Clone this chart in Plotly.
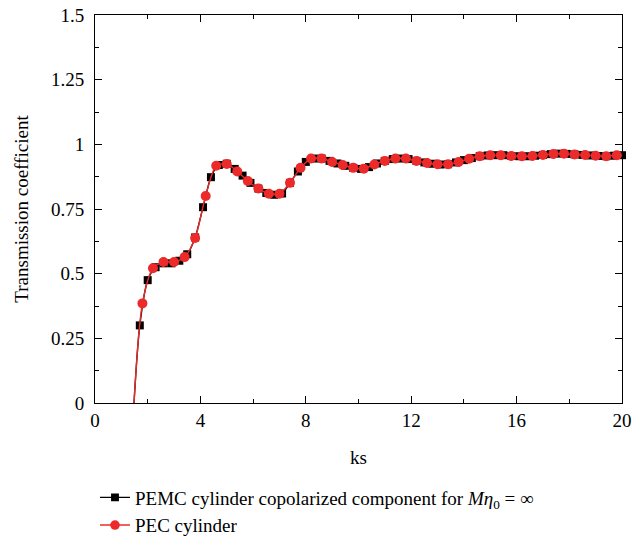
import plotly.graph_objects as go

# PEMC cylinder copolarized component (black squares)
pemc_ks = [1.48, 1.7, 2.0, 2.3, 2.6, 2.9, 3.2, 3.5, 3.8, 4.1, 4.4, 4.7, 5.0, 5.3, 5.6, 5.9,
           6.2, 6.5, 6.8, 7.1, 7.4, 7.7, 8.0, 8.3, 8.6, 8.9, 9.2, 9.5, 9.8, 10.1, 10.4,
           10.7, 11.0, 11.3, 11.6, 11.9, 12.2, 12.5, 12.8, 13.1, 13.4, 13.7, 14.0, 14.3,
           14.6, 14.9, 15.2, 15.5, 15.8, 16.1, 16.4, 16.7, 17.0, 17.3, 17.6, 17.9, 18.2,
           18.5, 18.8, 19.1, 19.4, 19.7, 20.0]
pemc_t = [0.0, 0.30, 0.475, 0.525, 0.54, 0.54, 0.55, 0.575, 0.64, 0.757, 0.873, 0.92, 0.925,
          0.905, 0.879, 0.851, 0.829, 0.812, 0.805, 0.81, 0.851, 0.895, 0.932, 0.945, 0.945,
          0.936, 0.926, 0.917, 0.909, 0.905, 0.912, 0.926, 0.936, 0.943, 0.945, 0.943, 0.936,
          0.93, 0.925, 0.922, 0.923, 0.93, 0.939, 0.947, 0.954, 0.957, 0.958, 0.958, 0.955,
          0.954, 0.954, 0.956, 0.959, 0.962, 0.964, 0.963, 0.961, 0.959, 0.957, 0.955,
          0.954, 0.956, 0.958]

# PEC cylinder (red circles)
pec_ks = [1.48, 1.8, 2.2, 2.6, 3.0, 3.4, 3.8, 4.2, 4.6, 5.0, 5.4, 5.8, 6.2, 6.6, 7.0, 7.4,
          7.8, 8.2, 8.6, 9.0, 9.4, 9.8, 10.2, 10.6, 11.0, 11.4, 11.8, 12.2, 12.6, 13.0,
          13.4, 13.8, 14.2, 14.6, 15.0, 15.4, 15.8, 16.2, 16.6, 17.0, 17.4, 17.8, 18.2,
          18.6, 19.0, 19.4, 19.8, 20.0]
pec_t = [0.0, 0.385, 0.521, 0.545, 0.545, 0.564, 0.638, 0.80, 0.917, 0.924, 0.895, 0.858,
         0.829, 0.809, 0.809, 0.851, 0.909, 0.945, 0.945, 0.932, 0.92, 0.909, 0.906, 0.922,
         0.936, 0.945, 0.945, 0.936, 0.928, 0.923, 0.923, 0.932, 0.944, 0.954, 0.958, 0.958,
         0.955, 0.954, 0.955, 0.959, 0.963, 0.964, 0.961, 0.959, 0.956, 0.954, 0.958, 0.957]

x_ticks = [0, 4, 8, 12, 16, 20]
y_ticks = [0, 0.25, 0.5, 0.75, 1, 1.25, 1.5]
y_tick_text = ["0", "0.25", "0.5", "0.75", "1", "1.25", "1.5"]

FONT = "Liberation Serif"
FS = 19
RED = "#ec2a2a"

W, H = 635, 545
ML, MT, MB = 95, 15, 142
PLOT_RIGHT = 622

# hide markers at the curve start (ks where curve leaves zero) and at the PEC line end
pemc_sizes = [0] + [8] * (len(pemc_ks) - 1)
pec_sizes = [0] + [10] * (len(pec_ks) - 2) + [0]

fig = go.Figure()
fig.add_trace(go.Scatter(
    x=pemc_ks, y=pemc_t, mode="lines+markers",
    name="PEMC cylinder copolarized component for <i>M\u03b7</i><sub>0</sub> = \u221e",
    line=dict(color="black", width=1.4, shape="spline", smoothing=0.8),
    marker=dict(symbol="square", size=pemc_sizes, color="black", opacity=1,
                line=dict(width=0)),
    cliponaxis=False,
))
fig.add_trace(go.Scatter(
    x=pec_ks, y=pec_t, mode="lines+markers",
    name="PEC cylinder",
    line=dict(color=RED, width=1.4, shape="spline", smoothing=0.8),
    marker=dict(symbol="circle", size=pec_sizes, color=RED, opacity=1,
                line=dict(width=0)),
    cliponaxis=False,
))

axis_common = dict(
    showline=True, linecolor="black", linewidth=1, mirror="ticks",
    ticks="inside", ticklen=7, tickwidth=1, tickcolor="black",
    showgrid=False, zeroline=False, automargin=False,
    tickfont=dict(family=FONT, size=FS, color="black"),
)

fig.update_xaxes(
    range=[0, 20], tickmode="array", tickvals=x_ticks,
    domain=[0, (PLOT_RIGHT - ML) / (W - ML)],
    title=dict(text="ks", font=dict(family=FONT, size=FS, color="black"), standoff=20),
    minor=dict(ticks="inside", ticklen=4, tickcolor="black", dtick=2, tick0=0),
    **axis_common,
)
fig.update_yaxes(
    range=[0, 1.5], tickmode="array", tickvals=y_ticks, ticktext=y_tick_text,
    title=dict(text="Transmission coefficient", font=dict(family=FONT, size=FS, color="black"), standoff=17),
    minor=dict(ticks="inside", ticklen=4, tickcolor="black", dtick=0.125, tick0=0),
    ticklabelstandoff=6,
    **axis_common,
)

plot_h = H - MT - MB
fig.update_layout(
    width=W, height=H,
    margin=dict(l=ML, r=0, t=MT, b=MB),
    plot_bgcolor="white", paper_bgcolor="white",
    font=dict(family=FONT, size=FS, color="black"),
    showlegend=True,
    legend=dict(
        x=0, y=-(MB - 0.5) / plot_h, xanchor="left", yanchor="bottom",
        orientation="v", bgcolor="rgba(0,0,0,0)",
        font=dict(family=FONT, size=FS, color="black"),
        tracegroupgap=0, itemwidth=30,
    ),
)

fig.write_html("out.html")
